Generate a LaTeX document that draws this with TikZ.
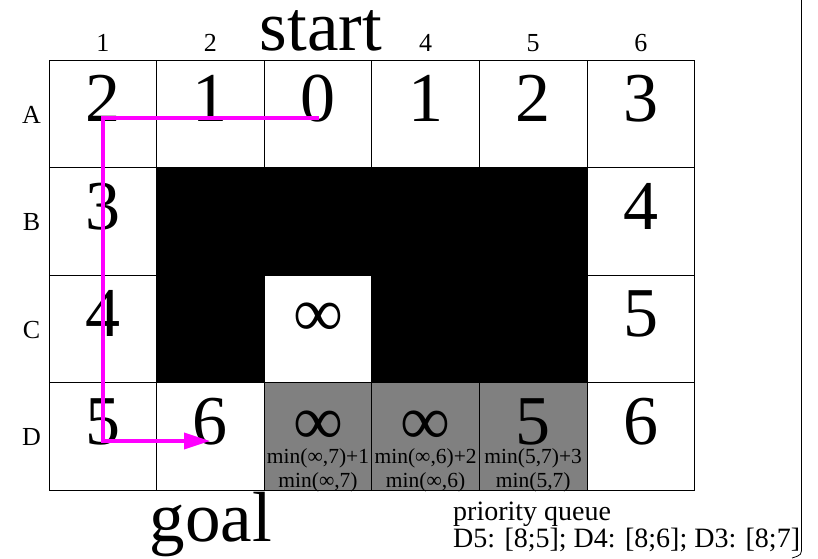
\documentclass[tikz,border=0pt]{standalone}
\usepackage{fontspec}
\setmainfont{Liberation Serif}
\usetikzlibrary{arrows.meta}
\begin{document}
\begin{tikzpicture}[x=1pt,y=-1pt,
  cellbox/.style={draw=black,line width=0.8pt,minimum width=107.6pt,minimum height=107.5pt,inner sep=0pt,outer sep=0pt},
  bignum/.style={font=\fontsize{70}{70}\selectfont,anchor=base,inner sep=0pt},
  smalllab/.style={font=\fontsize{26}{26}\selectfont,anchor=base,inner sep=0pt},
  minlab/.style={font=\fontsize{21.5}{24}\selectfont,align=center,anchor=base,inner sep=0pt},
  title/.style={font=\fontsize{71}{71}\selectfont,anchor=base,inner sep=0pt},
  pathline/.style={draw={rgb,255:red,255;green,0;blue,255},line width=3.5pt},
]
\useasboundingbox (0,0) rectangle (818,558);
% cells
\foreach \c in {1,...,6}{
  \foreach \r/\rl in {1/A,2/B,3/C,4/D}{
    \node[cellbox] (cell\rl\c) at ({49+(\c-0.5)*107.6},{60+(\r-0.5)*107.5}) {};
  }
}
% black obstacle
\foreach \n in {B2,B3,B4,B5,C2,C4,C5}{
  \fill[black] (cell\n.north west) rectangle (cell\n.south east);
}
% gray cells
\foreach \n in {D3,D4,D5}{
  \fill[gray] (cell\n.north west) rectangle (cell\n.south east);
  \draw[line width=0.8pt] (cell\n.north west) rectangle (cell\n.south east);
}
% column labels
\foreach \c in {1,2,4,5,6}{
  \node[smalllab] (col\c) at ({49+(\c-0.5)*107.6},51.7) {\c};
}
\node[title] (start) at (321,50) {start};
\node[title] (goal) at (211,541) {goal};
% row labels
\foreach \r/\rl in {1/A,2/B,3/C,4/D}{
  \node[smalllab] (row\rl) at (31.5,{60+(\r-1)*107.5+63}) {\rl};
}
% numbers
\foreach \n/\v in {A1/2,A2/1,A3/0,A4/1,A5/2,A6/3,B1/3,B6/4,C1/4,C3/∞,C6/5,D1/5,D2/6,D3/∞,D4/∞,D5/5,D6/6}{
  \path (cell\n.north) ++(0,61.5) node[bignum] (num\n) {\v};
}
% min labels
\path (cellD3.north) ++(0,105) node[minlab] (minD3) {min(∞,7)+1\\min(∞,7)};
\path (cellD4.north) ++(0,105) node[minlab] (minD4) {min(∞,6)+2\\min(∞,6)};
\path (cellD5.north) ++(0,105) node[minlab] (minD5) {min(5,7)+3\\min(5,7)};
% priority queue
\node[font=\fontsize{28}{24}\selectfont,align=left,anchor=base west,inner sep=0pt] (pq) at (453,547) {priority queue\\D5: [8;5]; D4: [8;6]; D3: [8;7]};
% right border line
\coordinate (rt) at (801.5,0);
\coordinate (rb) at (801.5,546);
\coordinate (rc) at (792,558);
\draw[line width=0.8pt] (rt) -- (rb) .. controls (801.5,555) .. (rc);
% path
\coordinate (p0) at (319,118);
\coordinate (p1) at (103,118);
\coordinate (p2) at (103,441);
\coordinate (p3) at (210,441);
\draw[pathline,-{Triangle[length=26pt,width=16pt]}] (p0) -- (p1) -- (p2) -- (p3);
\end{tikzpicture}
\end{document}
